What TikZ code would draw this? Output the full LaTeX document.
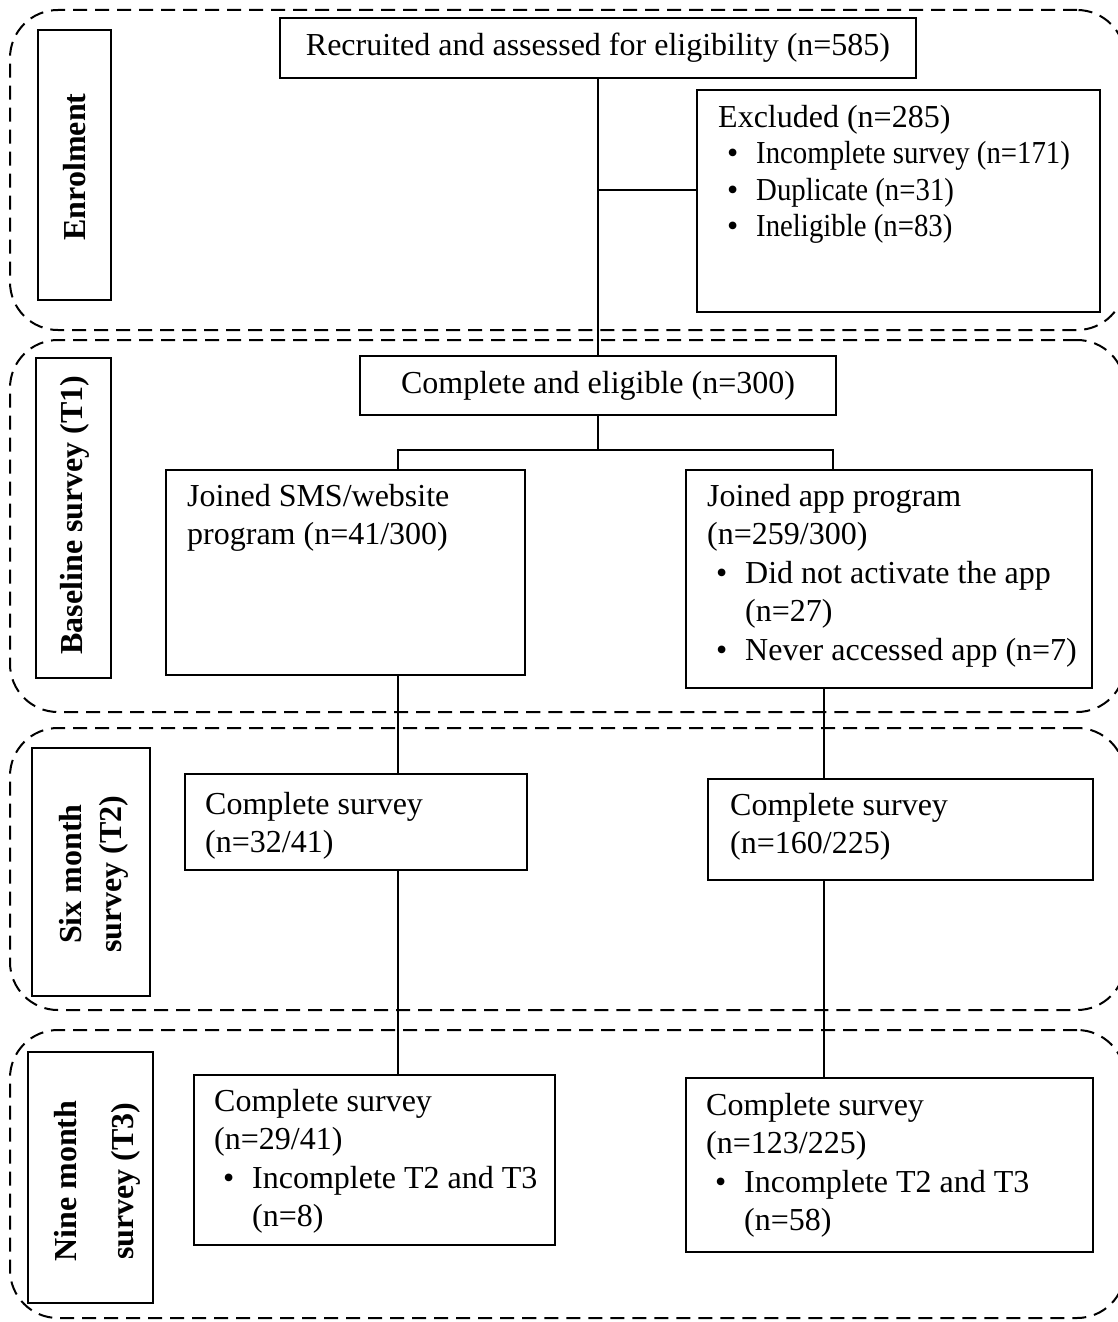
\documentclass[tikz,border=0pt]{standalone}
\usepackage{graphicx}
\usepackage{fontspec}
\setmainfont{Liberation Serif}
\newcommand\bul{\makebox[38pt][l]{\hspace{9pt}\textbullet}}
\newcommand\ind{\makebox[38pt]{}}
\newcommand\narrow[1]{\scalebox{0.9}[1]{#1}}
% rectangular box from corner (x1,y1) to corner (x2,y2)
\newcommand\boxnode[6][]{\node[box,#1,minimum width={(#5)-(#3)},minimum height={(#6)-(#4)}] (#2) at ({((#3)+(#5))/2},{((#4)+(#6))/2})}
\begin{document}
\begin{tikzpicture}[x=1pt,y=-1pt,
  stage/.style={draw,line width=2pt,dash pattern=on 14pt off 8pt,rounded corners=48pt},
  box/.style={draw,line width=1.3pt,inner sep=0pt,font=\fontsize{32}{38}\selectfont},
  txt/.style={inner sep=0pt,align=left,anchor=north west,yshift=26.6pt,font=\fontsize{32}{38.4}\selectfont},
  lbl/.style={inner sep=0pt,rotate=90,font=\bfseries\fontsize{32}{38}\selectfont},
  link/.style={line width=1.3pt}]
\useasboundingbox (0,0) rectangle (1118,1322);
\clip (0,0) rectangle (1118,1322);

% stage frames
\node[stage,minimum width=1115,minimum height=320,inner sep=0pt] (st1) at (567.5,170) {};
\node[stage,minimum width=1115,minimum height=372,inner sep=0pt] (st2) at (567.5,526) {};
\node[stage,minimum width=1115,minimum height=282,inner sep=0pt] (st3) at (567.5,869) {};
\node[stage,minimum width=1115,minimum height=288,inner sep=0pt] (st4) at (567.5,1174) {};

% stage labels
\boxnode{enr}{38}{30}{111}{300} {};
\boxnode{base}{36}{358}{111}{678} {};
\boxnode{six}{32}{748}{150}{996} {};
\boxnode{nine}{28}{1052}{153}{1303} {};
\node[lbl] (enrt) at (75,167) {Enrolment};
\node[lbl] (baset) at (75,515) {Baseline survey (T1)};
\node[lbl] (sixa) at (71,874) {Six month};
\node[lbl] (sixb) at (114,874) {survey (T2)};
\node[lbl] (ninea) at (66,1181) {Nine month};
\node[lbl] (nineb) at (126,1181) {survey (T3)};

% flow boxes
\boxnode{top}{280}{18}{916}{78} {Recruited and assessed for eligibility (n=585)};
\boxnode{excl}{697}{90}{1100}{312} {};
\boxnode{elig}{360}{356}{836}{415} {Complete and eligible (n=300)};
\boxnode{sms}{166}{470}{525}{675} {};
\boxnode{app}{686}{470}{1092}{688} {};
\boxnode{tl}{185}{774}{527}{870} {};
\boxnode{tr}{708}{779}{1093}{880} {};
\boxnode{nl}{194}{1075}{555}{1245} {};
\boxnode{nr}{686}{1078}{1093}{1252} {};

% box texts
\node[txt,font=\fontsize{32}{36.5}\selectfont] (exclt) at (718,128)
  {\strut Excluded (n=285)\\ \bul\narrow{Incomplete survey (n=171)}\\
   \bul\narrow{Duplicate (n=31)}\\ \bul\narrow{Ineligible (n=83)}};
\node[txt] (smst) at (187,506) {\strut Joined SMS/website\\ program (n=41/300)};
\node[txt] (appt) at (707,506)
  {\strut Joined app program\\ (n=259/300)\\ \bul Did not activate the app\\ \ind(n=27)\\ \bul Never accessed app (n=7)};
\node[txt] (tlt) at (205,814) {\strut Complete survey\\ (n=32/41)};
\node[txt] (trt) at (730,815) {\strut Complete survey\\ (n=160/225)};
\node[txt] (nlt) at (214,1111)
  {\strut Complete survey\\ (n=29/41)\\ \bul Incomplete T2 and T3\\ \ind(n=8)};
\node[txt] (nrt) at (706,1115)
  {\strut Complete survey\\ (n=123/225)\\ \bul Incomplete T2 and T3\\ \ind(n=58)};

% connectors
\coordinate (br) at (598,190);
\coordinate (fork) at (598,450);
\coordinate (lcol) at (398,450);
\coordinate (rcol) at (833,450);
\coordinate (rcol2) at (824,700);
\draw[link] (top) -- (elig);
\draw[link] (br) -- (br -| excl.west);
\draw[link] (elig.south) -- (fork);
\draw[link] (lcol |- sms.north) -- (lcol) -- (rcol) -- (rcol |- app.north);
\draw[link] (lcol |- sms.south) -- (lcol |- tl.north);
\draw[link] (lcol |- tl.south) -- (lcol |- nl.north);
\draw[link] (rcol2 |- app.south) -- (rcol2 |- tr.north);
\draw[link] (rcol2 |- tr.south) -- (rcol2 |- nr.north);
\end{tikzpicture}
\end{document}
